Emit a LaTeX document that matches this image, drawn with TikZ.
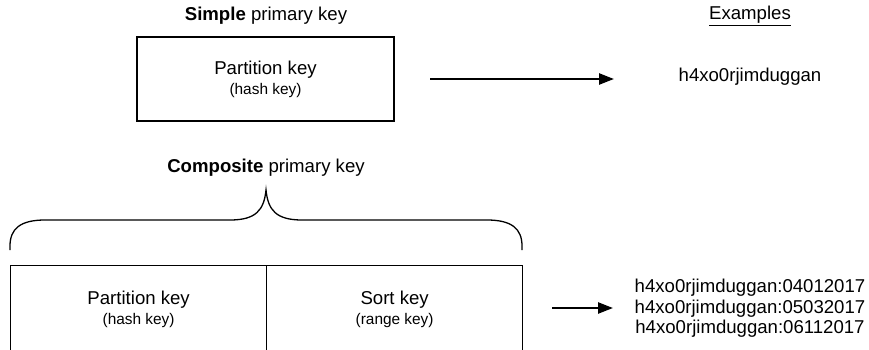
\documentclass[tikz,border=0pt]{standalone}
\usepackage{fontspec}
\setmainfont{Liberation Sans}
\usetikzlibrary{arrows.meta}
\newcommand{\bigf}{\fontsize{18.6}{22}\selectfont}
\newcommand{\smallf}{\fontsize{15.4}{22}\selectfont}
\begin{document}
\begin{tikzpicture}[x=1pt,y=-1pt,
  keybox/.style={draw,line width=1.3pt,inner sep=0pt,align=center,font=\bigf},
  lbl/.style={inner sep=0pt,font=\bigf,anchor=center},
  conn/.style={line width=2.4pt,-{Triangle[length=15pt,width=11pt]}}]
\useasboundingbox (0,0) rectangle (869,350);
% simple
\node[lbl] (stitle) at (266,16) {\textbf{Simple} primary key};
\node[keybox,minimum width=257pt,minimum height=84pt] (sbox) at (265.5,79)
  {Partition key\\[-2pt]{\smallf (hash key)}};
\node[lbl] (extitle) at (750,16) {\underline{Examples}};
\node[lbl] (ex1) at (750,77) {h4xo0rjimduggan};
\coordinate (a1s) at (430,79);
\coordinate (a1e) at (614,79);
\draw[conn] (a1s) -- (a1e);
% composite
\node[lbl] (ctitle) at (266,168) {\textbf{Composite} primary key};
\draw[line width=1.3pt] (10,250) -- (10,246) .. controls (10,229) and (20,220) .. (45,220)
  -- (230,220) .. controls (256,220) and (264,210) .. (266,190)
  .. controls (268,210) and (276,220) .. (302,220) -- (487,220)
  .. controls (512,220) and (522,229) .. (522,246) -- (522,250);
\node[keybox,minimum width=256pt,minimum height=88pt,anchor=north west] (pbox) at (10,265)
  {Partition key\\[-2pt]{\smallf (hash key)}};
\node[keybox,minimum width=256pt,minimum height=88pt,anchor=north west] (rbox) at (266,265)
  {Sort key\\[-2pt]{\smallf (range key)}};
\node[lbl] (ex2) at (750,288) {h4xo0rjimduggan:04012017};
\node[lbl] (ex3) at (750,308.5) {h4xo0rjimduggan:05032017};
\node[lbl] (ex4) at (750,329) {h4xo0rjimduggan:06112017};
\coordinate (a2s) at (552,308);
\coordinate (a2e) at (613,308);
\draw[conn] (a2s) -- (a2e);
\end{tikzpicture}
\end{document}
